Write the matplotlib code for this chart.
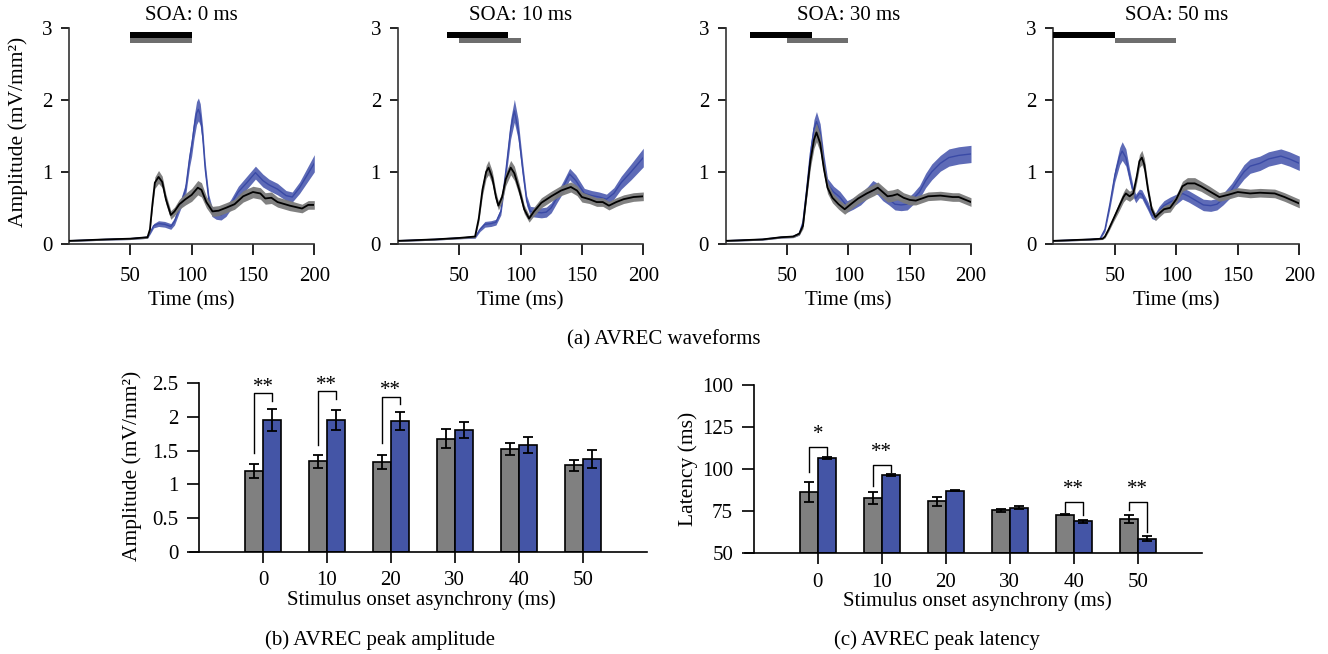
import matplotlib
matplotlib.use("Agg")
import matplotlib.pyplot as plt
import numpy as np

plt.rcParams['font.family'] = ['Liberation Serif', 'DejaVu Serif']
plt.rcParams['font.size'] = 15

# ---------------- AVREC waveforms (mean and SEM) ----------------
soa_values = [0, 10, 30, 50]
stim_duration = 50

# SOA 0 ms
t_ctrl_0 = [0, 30, 50, 64, 66, 68, 70, 73, 76, 79, 83, 86, 90, 95, 100, 105, 108, 112, 117, 122, 128, 135, 142, 150, 156, 160, 165, 170, 180, 190, 195, 200]
ctrl_0 = [0.04, 0.06, 0.07, 0.09, 0.20, 0.55, 0.85, 0.93, 0.86, 0.62, 0.40, 0.45, 0.55, 0.62, 0.68, 0.78, 0.75, 0.58, 0.45, 0.46, 0.50, 0.55, 0.66, 0.72, 0.70, 0.63, 0.64, 0.58, 0.53, 0.49, 0.54, 0.54]
ctrl_sem_0 = [0.01, 0.01, 0.012, 0.015, 0.03, 0.06, 0.08, 0.09, 0.08, 0.07, 0.06, 0.06, 0.07, 0.08, 0.09, 0.1, 0.1, 0.08, 0.07, 0.07, 0.07, 0.07, 0.08, 0.08, 0.08, 0.08, 0.08, 0.07, 0.07, 0.06, 0.06, 0.06]
t_test_0 = [0, 30, 50, 64, 66, 69, 73, 78, 83, 86, 90, 95, 98.4, 100, 102, 104, 105.5, 107, 109, 111, 114, 116.5, 120, 124, 128, 132, 138, 145, 152, 158, 163, 170, 177, 182, 188, 194, 200]
test_0 = [0.04, 0.06, 0.07, 0.09, 0.15, 0.25, 0.28, 0.27, 0.24, 0.31, 0.50, 0.75, 1.2, 1.35, 1.62, 1.82, 1.87, 1.8, 1.5, 1.05, 0.61, 0.45, 0.41, 0.40, 0.45, 0.55, 0.72, 0.85, 0.99, 0.88, 0.82, 0.76, 0.67, 0.65, 0.78, 0.95, 1.12]
test_sem_0 = [0.01, 0.01, 0.012, 0.015, 0.02, 0.03, 0.04, 0.04, 0.04, 0.05, 0.06, 0.09, 0.12, 0.13, 0.15, 0.16, 0.16, 0.15, 0.13, 0.1, 0.07, 0.07, 0.07, 0.07, 0.07, 0.07, 0.08, 0.09, 0.09, 0.09, 0.08, 0.08, 0.07, 0.07, 0.08, 0.1, 0.12]

# SOA 10 ms
t_ctrl_10 = [0, 30, 50, 63, 66, 69, 72, 74, 77, 80, 82, 85, 88, 92, 95, 99, 103, 107, 111, 117, 125, 133, 141, 146, 150, 156, 162, 167, 172, 178, 184, 192, 200]
ctrl_10 = [0.04, 0.06, 0.08, 0.10, 0.35, 0.75, 1.0, 1.06, 0.92, 0.65, 0.53, 0.65, 0.9, 1.06, 0.98, 0.75, 0.48, 0.35, 0.45, 0.57, 0.66, 0.74, 0.79, 0.74, 0.65, 0.62, 0.58, 0.58, 0.53, 0.58, 0.62, 0.65, 0.66]
ctrl_sem_10 = [0.01, 0.01, 0.012, 0.015, 0.05, 0.08, 0.09, 0.1, 0.09, 0.07, 0.06, 0.07, 0.09, 0.1, 0.1, 0.08, 0.06, 0.05, 0.06, 0.07, 0.07, 0.07, 0.07, 0.07, 0.07, 0.06, 0.06, 0.06, 0.06, 0.06, 0.06, 0.06, 0.06]
t_test_10 = [0, 30, 50, 63, 67, 71, 76, 80, 84, 88, 92, 95, 98, 102, 105, 108, 112, 117, 121, 125, 130, 135, 140, 145, 152, 158, 164, 170, 176, 182, 190, 200]
test_10 = [0.04, 0.06, 0.08, 0.09, 0.2, 0.27, 0.28, 0.30, 0.45, 1.0, 1.6, 1.85, 1.6, 1.0, 0.6, 0.45, 0.44, 0.43, 0.44, 0.50, 0.65, 0.80, 0.97, 0.88, 0.70, 0.67, 0.65, 0.62, 0.70, 0.85, 1.0, 1.2]
test_sem_10 = [0.01, 0.01, 0.012, 0.015, 0.03, 0.04, 0.04, 0.04, 0.05, 0.1, 0.14, 0.16, 0.14, 0.1, 0.07, 0.07, 0.07, 0.07, 0.07, 0.07, 0.07, 0.08, 0.08, 0.08, 0.07, 0.07, 0.07, 0.07, 0.08, 0.09, 0.11, 0.13]

# SOA 30 ms
t_ctrl_30 = [0, 30, 45, 55, 60, 63, 66, 69, 72, 74, 77, 80, 83, 87, 92, 97, 102, 108, 115, 121, 124, 128, 132, 136, 140, 145, 150, 155, 160, 165, 175, 185, 190, 200]
ctrl_30 = [0.04, 0.06, 0.09, 0.10, 0.14, 0.25, 0.7, 1.15, 1.45, 1.55, 1.4, 1.05, 0.78, 0.64, 0.55, 0.48, 0.55, 0.63, 0.70, 0.75, 0.78, 0.72, 0.66, 0.67, 0.69, 0.64, 0.61, 0.60, 0.63, 0.66, 0.67, 0.65, 0.65, 0.58]
ctrl_sem_30 = [0.01, 0.01, 0.012, 0.015, 0.02, 0.04, 0.07, 0.1, 0.12, 0.13, 0.12, 0.09, 0.08, 0.07, 0.07, 0.07, 0.07, 0.07, 0.08, 0.08, 0.08, 0.08, 0.08, 0.08, 0.08, 0.07, 0.07, 0.06, 0.06, 0.06, 0.06, 0.06, 0.06, 0.06]
t_test_30 = [0, 30, 45, 55, 60, 63, 66, 69, 72, 74, 77, 80, 83, 88, 93, 99, 104, 110, 116, 120, 124, 128, 133, 138, 143, 148, 153, 158, 163, 168, 175, 182, 190, 200]
test_30 = [0.04, 0.06, 0.09, 0.10, 0.14, 0.3, 0.75, 1.25, 1.6, 1.7, 1.55, 1.15, 0.83, 0.72, 0.65, 0.52, 0.56, 0.62, 0.72, 0.80, 0.76, 0.68, 0.62, 0.55, 0.54, 0.55, 0.63, 0.72, 0.88, 1.0, 1.12, 1.2, 1.23, 1.25]
test_sem_30 = [0.01, 0.01, 0.012, 0.015, 0.02, 0.05, 0.08, 0.11, 0.13, 0.14, 0.12, 0.1, 0.08, 0.08, 0.08, 0.08, 0.08, 0.08, 0.08, 0.08, 0.08, 0.08, 0.08, 0.08, 0.08, 0.08, 0.08, 0.09, 0.1, 0.11, 0.11, 0.12, 0.12, 0.12]

# SOA 50 ms
t_ctrl_50 = [0, 30, 40, 42, 45, 49, 53, 57, 59, 62, 65, 68, 70, 72, 74, 77, 80, 83, 86, 90, 95, 100, 105, 109, 115, 120, 127, 135, 142, 150, 160, 168, 180, 188, 200]
ctrl_50 = [0.04, 0.06, 0.07, 0.1, 0.2, 0.35, 0.5, 0.65, 0.70, 0.66, 0.70, 0.95, 1.15, 1.2, 1.1, 0.75, 0.48, 0.37, 0.42, 0.48, 0.50, 0.62, 0.80, 0.84, 0.84, 0.80, 0.73, 0.65, 0.68, 0.72, 0.70, 0.71, 0.70, 0.65, 0.56]
ctrl_sem_50 = [0.01, 0.01, 0.012, 0.02, 0.03, 0.04, 0.06, 0.07, 0.08, 0.07, 0.07, 0.08, 0.09, 0.1, 0.09, 0.07, 0.05, 0.05, 0.05, 0.05, 0.06, 0.06, 0.07, 0.08, 0.08, 0.07, 0.07, 0.06, 0.06, 0.06, 0.06, 0.06, 0.06, 0.06, 0.06]
t_test_50 = [0, 30, 38, 42, 46, 50, 54, 56, 59, 62, 65, 67, 70, 72, 74, 77, 80, 83, 86, 90, 95, 100, 105, 110, 116, 122, 128, 133, 138, 145, 150, 155, 160, 168, 175, 185, 192, 200]
test_50 = [0.04, 0.06, 0.07, 0.2, 0.55, 0.95, 1.22, 1.29, 1.2, 0.95, 0.72, 0.63, 0.70, 0.69, 0.62, 0.52, 0.40, 0.38, 0.46, 0.53, 0.58, 0.62, 0.70, 0.66, 0.60, 0.54, 0.53, 0.55, 0.62, 0.75, 0.88, 1.0, 1.08, 1.12, 1.18, 1.22, 1.18, 1.12]
test_sem_50 = [0.01, 0.01, 0.012, 0.03, 0.06, 0.09, 0.12, 0.13, 0.12, 0.09, 0.07, 0.06, 0.06, 0.06, 0.06, 0.06, 0.05, 0.05, 0.06, 0.07, 0.07, 0.07, 0.08, 0.08, 0.08, 0.08, 0.08, 0.08, 0.08, 0.09, 0.09, 0.1, 0.1, 0.1, 0.1, 0.1, 0.1, 0.1]

waveforms = [
    (t_ctrl_0, ctrl_0, ctrl_sem_0, t_test_0, test_0, test_sem_0),
    (t_ctrl_10, ctrl_10, ctrl_sem_10, t_test_10, test_10, test_sem_10),
    (t_ctrl_30, ctrl_30, ctrl_sem_30, t_test_30, test_30, test_sem_30),
    (t_ctrl_50, ctrl_50, ctrl_sem_50, t_test_50, test_50, test_sem_50),
]

# ---------------- Peak amplitude and latency ----------------
soa_groups = [0, 10, 20, 30, 40, 50]
amp_ctrl = [1.20, 1.34, 1.33, 1.68, 1.52, 1.28]
amp_ctrl_err = [0.10, 0.09, 0.10, 0.145, 0.087, 0.077]
amp_test = [1.955, 1.955, 1.94, 1.81, 1.58, 1.376]
amp_test_err = [0.17, 0.145, 0.135, 0.12, 0.12, 0.13]

lat_ctrl = [86.5, 82.9, 80.8, 75.6, 73.0, 70.2]
lat_ctrl_err = [6.0, 3.6, 2.8, 1.0, 0.5, 2.4]
lat_test = [106.7, 96.8, 87.3, 77.2, 68.9, 58.7]
lat_test_err = [0.6, 0.6, 0.5, 0.8, 0.7, 1.6]
lat_tick_values = [50, 75, 100, 125, 150]
lat_tick_labels = ['50', '75', '100', '125', '100']

# significance brackets: (group, left end, top, right end, label)
amp_sig = [(0, 1.46, 2.35, 2.23, '**'), (10, 1.58, 2.38, 2.27, '**'), (20, 1.62, 2.30, 2.20, '**')]
lat_sig = [(0, 98.4, 113.1, 107.5, '*'), (10, 89.7, 102.4, 98.6, '**'),
           (40, 74.8, 80.2, 72.8, '**'), (50, 75.8, 80.2, 62.8, '**')]

GRAY_BAR = '#808080'
BLUE_BAR = '#4455A6'
BLUE_BAND = '#5563B3'
BLUE_LINE = '#3A4AA6'
GRAY_BAND = '#7A7A7A'

W, H = 1328, 654
fig = plt.figure(figsize=(W / 100, H / 100), dpi=100)


def px_rect(x0, x1, y_bottom, y_top):
    return [x0 / W, 1 - y_bottom / H, (x1 - x0) / W, (y_bottom - y_top) / H]


top_spans = [(69.0, 314.3), (397.7, 643.3), (725.7, 971.0), (1053.3, 1299.3)]

for soa, wf, (x0, x1) in zip(soa_values, waveforms, top_spans):
    ax = fig.add_axes(px_rect(x0, x1, 243.7, 28.3))
    tc, vc, sc, tt, vt, st = [np.asarray(a, dtype=float) for a in wf]
    ax.fill_between(tt, vt - st, vt + st, color=BLUE_BAND, lw=0, alpha=0.95, zorder=1)
    ax.plot(tt, vt, color=BLUE_LINE, lw=1.0, zorder=2)
    ax.fill_between(tc, vc - sc, vc + sc, color=GRAY_BAND, lw=0, alpha=0.95, zorder=3)
    ax.plot(tc, vc, color='black', lw=1.3, zorder=4)

    # stimulus bars: first tone (black), second tone (gray)
    first_on = 50 - soa
    ax.fill_between([first_on, first_on + stim_duration], 2.87, 2.945, color='black', lw=0, clip_on=False, zorder=5)
    ax.fill_between([50, 50 + stim_duration], 2.79, 2.87, color='#6E6E6E', lw=0, clip_on=False, zorder=5)

    ax.set_xlim(0, 200)
    ax.set_ylim(0, 3)
    ax.set_xticks([50, 100, 150, 200])
    ax.set_yticks([0, 1, 2, 3])
    for s in ['top', 'right']:
        ax.spines[s].set_visible(False)
    for s in ['left', 'bottom']:
        ax.spines[s].set_linewidth(1.2)
        ax.spines[s].set_color('#333333')
    ax.tick_params(axis='x', direction='out', length=8, width=1.2, pad=9, labelsize=15)
    ax.tick_params(axis='y', direction='out', length=6, width=1.2, pad=6, labelsize=15)
    ax.text(0.5, 1.06, f'SOA: {soa} ms', transform=ax.transAxes, ha='center', va='center', fontsize=15)
    fig.text((x0 + x1) / 2 / W, 1 - 301 / H, 'Time (ms)', ha='center', va='center', fontsize=15)

fig.text(18 / W, 1 - 132 / H, 'Amplitude (mV/mm²)', rotation=90, ha='center', va='center', fontsize=15.5)
fig.text(0.5, 1 - 340 / H, '(a) AVREC waveforms', ha='center', va='center', fontsize=15)

BW = 2.85
x = np.asarray(soa_groups, dtype=float)


def bar_panel(rect, ctrl, ctrl_err, test, test_err, ylim, sig, star_gap):
    ax = fig.add_axes(rect)
    base = ylim[0]
    ax.bar(x - BW / 2, np.asarray(ctrl) - base, BW, bottom=base, color=GRAY_BAR, edgecolor='black', lw=1.2, zorder=2)
    ax.bar(x + BW / 2, np.asarray(test) - base, BW, bottom=base, color=BLUE_BAR, edgecolor='black', lw=1.2, zorder=2)
    ax.errorbar(x - BW / 2, ctrl, yerr=ctrl_err, fmt='none', ecolor='black', elinewidth=1.3, capsize=3.5, capthick=1.3, zorder=3)
    ax.errorbar(x + BW / 2, test, yerr=test_err, fmt='none', ecolor='black', elinewidth=1.3, capsize=3.5, capthick=1.3, zorder=3)
    for g, yl, ytop, yr, lab in sig:
        xl, xr = g - BW / 2, g + BW / 2
        ax.plot([xl, xl, xr, xr], [yl, ytop, ytop, yr], color='black', lw=1.0, zorder=4)
        ax.text(g, ytop + star_gap, lab, ha='center', va='center', fontsize=15, zorder=4)
    ax.set_xlim(-11.4, 60)
    ax.set_ylim(*ylim)
    ax.set_xticks(soa_groups)
    ax.spines['left'].set_position(('data', -10))
    for s in ['top', 'right']:
        ax.spines[s].set_visible(False)
    for s in ['left', 'bottom']:
        ax.spines[s].set_linewidth(1.2)
    ax.tick_params(axis='x', direction='out', length=8, width=1.2, pad=6, labelsize=15)
    ax.tick_params(axis='y', direction='out', length=9, width=1.2, pad=6, labelsize=15)
    return ax


ax_b = bar_panel(px_rect(190.1, 646.7, 551.7, 383.3), amp_ctrl, amp_ctrl_err, amp_test, amp_test_err,
                 (0, 2.5), amp_sig, 0.09)
ax_b.set_yticks([0, 0.5, 1, 1.5, 2, 2.5])
ax_b.set_yticklabels(['0', '0.5', '1', '1.5', '2', '2.5'])

ax_c = bar_panel(px_rect(745.0, 1201.7, 553.3, 385.0), lat_ctrl, lat_ctrl_err, lat_test, lat_test_err,
                 (50, 150), lat_sig, 7.5)
ax_c.set_yticks(lat_tick_values)
ax_c.set_yticklabels(lat_tick_labels)

fig.text(421.5 / W, 1 - 600 / H, 'Stimulus onset asynchrony (ms)', ha='center', va='center', fontsize=15)
fig.text(977 / W, 1 - 601 / H, 'Stimulus onset asynchrony (ms)', ha='center', va='center', fontsize=15)
fig.text(132 / W, 1 - 466 / H, 'Amplitude (mV/mm²)', rotation=90, ha='center', va='center', fontsize=15.5)
fig.text(688 / W, 1 - 469 / H, 'Latency (ms)', rotation=90, ha='center', va='center', fontsize=15.5)
fig.text(380 / W, 1 - 640 / H, '(b) AVREC peak amplitude', ha='center', va='center', fontsize=15)
fig.text(937 / W, 1 - 640 / H, '(c) AVREC peak latency', ha='center', va='center', fontsize=15)

fig.savefig('out.png', dpi=100)
